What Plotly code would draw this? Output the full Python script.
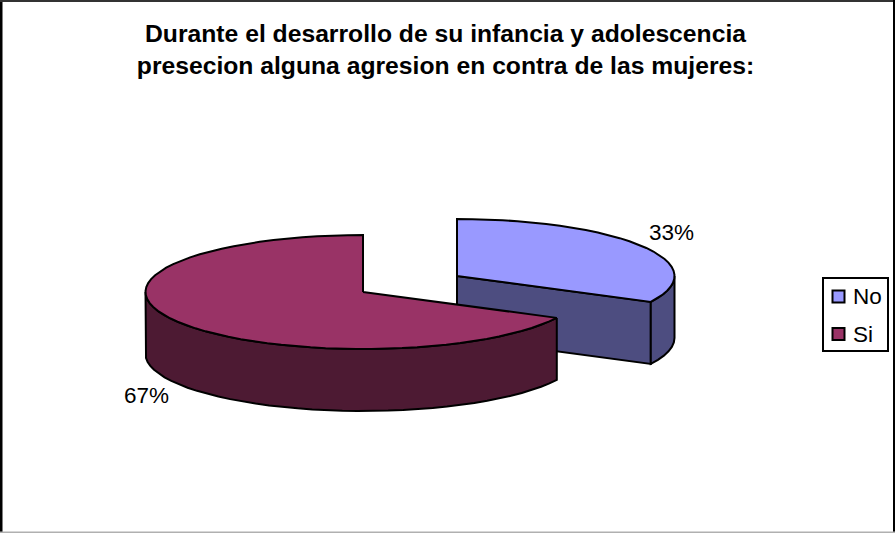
import numpy as np
import plotly.graph_objects as go

# Data
categories = ["No", "Si"]
values = [32.5, 67.5]
value_labels = ["33%", "67%"]
title_lines = ["Durante el desarrollo de su infancia y adolescencia",
               "presecion alguna agresion en contra de las mujeres:"]

top_colors = ["#9999FF", "#993366"]
side_colors = ["#4D4D80", "#4D1A33"]

# Projection of the pie, in chart units
W, H = 895, 533
RX, RY, DEPTH = 217.5, 57, 62
EXPLODED_CENTRES = [(457, 276), (363, 292)]
LABEL_POS = [(671.5, 232), (146.5, 395)]
LEGEND_MARK_Y = [296.5, 334]
LEGEND_MARK_X = 838.5
LEGEND_TEXT_X = 851


def arc(cx, cy, a0, a1):
    n = max(3, int(abs(a1 - a0) / 4) + 1)
    t = np.radians(np.linspace(a0, a1, n))
    return cx + RX * np.sin(t), cy - RY * np.cos(t)


def polygon(xs, ys, color, name):
    return go.Scatter(x=list(xs), y=list(ys), mode="lines", fill="toself", fillcolor=color,
                      line=dict(color="#000000", width=2), hoverinfo="name", name=name,
                      showlegend=False)


fig = go.Figure()
total = sum(values)
start = 0.0
for i, (cat, val) in enumerate(zip(categories, values)):
    end = start + 360 * val / total
    cx, cy = EXPLODED_CENTRES[i]
    ax, ay = arc(cx, cy, start, end)

    # visible outer wall: the part of the rim on the front half (90..270 degrees)
    a, b = max(start, 90), min(end, 270)

    # cut face of the first slice, seen from the front
    if i == 0:
        ex, ey = arc(cx, cy, end, end)
        fig.add_trace(polygon([cx, ex[-1], ex[-1], cx, cx],
                              [cy, ey[-1], ey[-1] + DEPTH, cy + DEPTH, cy],
                              side_colors[i], cat))
    wx, wy = arc(cx, cy, a, b)
    fig.add_trace(polygon(np.r_[wx, wx[::-1], wx[0]],
                          np.r_[wy, wy[::-1] + DEPTH, wy[0]],
                          side_colors[i], cat))

    # top face
    fig.add_trace(polygon(np.r_[cx, ax, cx], np.r_[cy, ay, cy], top_colors[i], cat))
    start = end

# Legend entries
fig.add_trace(go.Scatter(x=[LEGEND_MARK_X] * len(categories), y=LEGEND_MARK_Y, mode="markers",
                         hoverinfo="skip", showlegend=False,
                         marker=dict(symbol="square", size=12, color=top_colors,
                                     line=dict(color="#000000", width=2))))

label_font = dict(family="Liberation Sans", size=22.5, color="#000000")
annotations = [dict(x=x, y=y, xref="x", yref="y", text=t, showarrow=False, font=label_font)
               for (x, y), t in zip(LABEL_POS, value_labels)]
annotations += [dict(x=LEGEND_TEXT_X, y=y, xref="x", yref="y", text=c, showarrow=False,
                     xanchor="left", font=label_font)
                for y, c in zip(LEGEND_MARK_Y, categories)]

shapes = [
    dict(type="rect", x0=823, x1=888, y0=278, y1=351, line=dict(color="#000000", width=2),
         fillcolor="#FFFFFF", layer="below"),
    dict(type="line", x0=1, x1=1, y0=0, y1=H, line=dict(color="#000000", width=3)),
    dict(type="line", x0=0, x1=W, y0=1, y1=1, line=dict(color="#333333", width=2)),
    dict(type="line", x0=W - 1, x1=W - 1, y0=0, y1=H, line=dict(color="#000000", width=2)),
    dict(type="line", x0=0, x1=W, y0=H - 0.5, y1=H - 0.5, line=dict(color="#B0B0B0", width=2)),
]

fig.update_layout(
    width=W, height=H, margin=dict(l=0, r=0, t=0, b=0),
    paper_bgcolor="#FFFFFF", plot_bgcolor="#FFFFFF",
    font=dict(family="Liberation Sans", color="#000000"),
    title=dict(text="<b>" + "<br>".join(title_lines) + "</b>", x=445.5 / W, xanchor="center",
               y=1 - 42 / H, yanchor="top", font=dict(family="Liberation Sans", size=24.7)),
    xaxis=dict(range=[0, W], visible=False, fixedrange=True),
    yaxis=dict(range=[H, 0], visible=False, fixedrange=True),
    annotations=annotations, shapes=shapes, showlegend=False,
)
fig.write_html("out.html", config=dict(displayModeBar=False),
               post_script="document.body.style.margin='0';document.body.style.overflow='hidden';")
